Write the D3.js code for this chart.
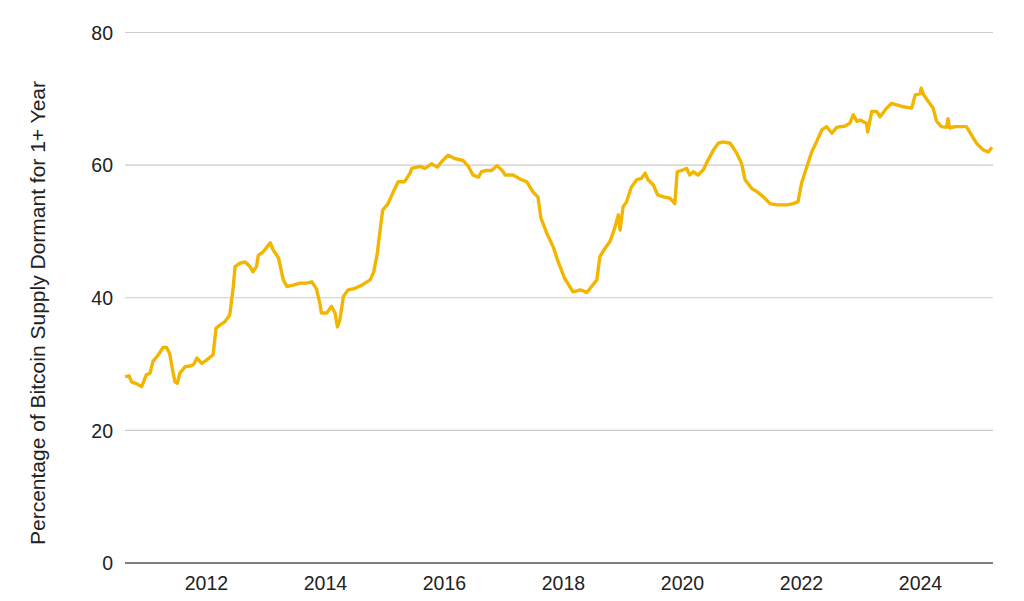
<!DOCTYPE html>
<html>
<head>
<meta charset="utf-8">
<script src="https://cdn.jsdelivr.net/npm/d3@7"></script>
<style>
  body { margin: 0; background: #fff; }
  svg text { font-family: "Liberation Sans", Arial, sans-serif; fill: #222; }
</style>
</head>
<body>
<svg id="chart"></svg>
<script>
'use strict';

// decimal years
var years = [
  2010.64, 2010.71, 2010.75, 2010.84, 2010.92, 2011.00, 2011.06, 2011.11, 2011.20, 2011.28,
  2011.34, 2011.39, 2011.44, 2011.48, 2011.52, 2011.56, 2011.65, 2011.73, 2011.79, 2011.85,
  2011.93, 2012.01, 2012.12, 2012.17, 2012.24, 2012.32, 2012.40, 2012.46, 2012.49, 2012.57,
  2012.66, 2012.74, 2012.79, 2012.85, 2012.88, 2012.96, 2013.08, 2013.13, 2013.22, 2013.30,
  2013.36, 2013.47, 2013.58, 2013.69, 2013.78, 2013.86, 2013.92, 2013.94, 2014.03, 2014.11,
  2014.17, 2014.21, 2014.25, 2014.31, 2014.39, 2014.50, 2014.62, 2014.76, 2014.82, 2014.88,
  2014.92, 2014.97, 2015.06, 2015.15, 2015.23, 2015.34, 2015.43, 2015.46, 2015.60, 2015.68,
  2015.79, 2015.89, 2015.96, 2016.07, 2016.18, 2016.32, 2016.41, 2016.49, 2016.58, 2016.63,
  2016.72, 2016.80, 2016.89, 2016.97, 2017.03, 2017.16, 2017.28, 2017.39, 2017.50, 2017.58,
  2017.63, 2017.73, 2017.84, 2017.92, 2018.03, 2018.17, 2018.29, 2018.40, 2018.48, 2018.57,
  2018.62, 2018.71, 2018.79, 2018.87, 2018.93, 2018.96, 2019.01, 2019.07, 2019.15, 2019.24,
  2019.32, 2019.38, 2019.43, 2019.52, 2019.59, 2019.69, 2019.80, 2019.88, 2019.92, 2020.02,
  2020.08, 2020.13, 2020.19, 2020.27, 2020.36, 2020.44, 2020.53, 2020.61, 2020.69, 2020.81,
  2020.92, 2021.00, 2021.06, 2021.17, 2021.26, 2021.37, 2021.48, 2021.59, 2021.76, 2021.87,
  2021.95, 2022.01, 2022.10, 2022.18, 2022.26, 2022.35, 2022.43, 2022.52, 2022.60, 2022.74,
  2022.82, 2022.88, 2022.94, 2022.99, 2023.10, 2023.12, 2023.19, 2023.27, 2023.33, 2023.44,
  2023.52, 2023.61, 2023.72, 2023.86, 2023.92, 2024.00, 2024.02, 2024.06, 2024.14, 2024.22,
  2024.28, 2024.36, 2024.45, 2024.47, 2024.50, 2024.59, 2024.67, 2024.78, 2024.87, 2024.95,
  2025.06, 2025.15, 2025.21
];

// percentage of supply dormant for 1+ year
var dormant = [
  28.1, 28.2, 27.3, 27.0, 26.6, 28.4, 28.6, 30.4, 31.4, 32.5,
  32.5, 31.6, 29.1, 27.3, 27.1, 28.6, 29.6, 29.7, 29.9, 30.9,
  30.1, 30.6, 31.4, 35.4, 35.9, 36.4, 37.4, 41.7, 44.7, 45.2,
  45.4, 44.7, 43.9, 44.7, 46.4, 46.9, 48.3, 47.2, 46.0, 42.7,
  41.7, 41.9, 42.2, 42.2, 42.4, 41.3, 38.9, 37.7, 37.7, 38.7,
  37.7, 35.6, 36.6, 40.2, 41.2, 41.4, 41.9, 42.7, 43.9, 46.7,
  49.7, 53.2, 54.2, 56.0, 57.5, 57.5, 58.8, 59.5, 59.8, 59.5,
  60.2, 59.7, 60.5, 61.5, 61.0, 60.7, 59.8, 58.5, 58.2, 59.0,
  59.2, 59.2, 59.9, 59.3, 58.5, 58.5, 57.9, 57.5, 55.9, 55.2,
  52.0, 49.7, 47.6, 45.4, 42.9, 40.9, 41.2, 40.8, 41.7, 42.7,
  46.2, 47.5, 48.5, 50.5, 52.5, 50.2, 53.7, 54.5, 56.7, 57.8,
  58.0, 58.8, 57.8, 57.0, 55.5, 55.2, 55.0, 54.2, 59.0, 59.3,
  59.5, 58.5, 59.0, 58.5, 59.3, 60.8, 62.3, 63.3, 63.5, 63.3,
  61.8, 60.3, 57.8, 56.5, 56.0, 55.2, 54.2, 54.0, 54.0, 54.2,
  54.5, 57.3, 59.8, 62.0, 63.5, 65.3, 65.8, 64.8, 65.7, 65.9,
  66.3, 67.6, 66.6, 66.8, 66.3, 65.0, 68.1, 68.1, 67.3, 68.6,
  69.3, 69.1, 68.8, 68.6, 70.6, 70.8, 71.6, 70.6, 69.6, 68.6,
  66.6, 65.8, 65.7, 67.0, 65.6, 65.8, 65.8, 65.8, 64.5, 63.3,
  62.3, 62.0, 62.7
];

var yTicks = [0, 20, 40, 60, 80];
var xTicks = [2012, 2014, 2016, 2018, 2020, 2022, 2024];
var yTitle = "Percentage of Bitcoin Supply Dormant for 1+ Year";

var width = 1024,
    height = 601,
    plotLeft = 125,
    plotRight = 993,
    plotTop = 32.5,
    plotBottom = 563;

var data = years.map(function(yr, i) { return { year: yr, value: dormant[i] }; });

var x = d3.scaleLinear()
          .domain([years[0], years[years.length - 1]])
          .range([plotLeft, 992]);

var y = d3.scaleLinear()
          .domain([0, 80])
          .range([plotBottom, plotTop]);

var svg = d3.select("#chart")
            .attr("width", width)
            .attr("height", height);

// gridlines
svg.append("g")
    .selectAll("line")
    .data(yTicks.filter(function(d) { return d > 0; }))
  .enter().append("line")
    .attr("x1", plotLeft)
    .attr("x2", plotRight)
    .attr("y1", function(d) { return y(d); })
    .attr("y2", function(d) { return y(d); })
    .attr("stroke", "#cccccc")
    .attr("stroke-width", 1.2);

// y axis labels
var yAxis = svg.append("g")
    .attr("transform", "translate(" + (plotLeft - 12) + ",0)")
    .call(d3.axisLeft(y).tickValues(yTicks).tickSize(0).tickPadding(0));
yAxis.select(".domain").remove();
yAxis.selectAll("text")
    .style("font-size", "19.5px")
    .attr("dy", "0.35em");

// x axis labels
var xAxis = svg.append("g")
    .attr("transform", "translate(0," + plotBottom + ")")
    .call(d3.axisBottom(x).tickValues(xTicks).tickFormat(d3.format("d")).tickSize(0).tickPadding(13));
xAxis.select(".domain").remove();
xAxis.selectAll("text")
    .style("font-size", "19.5px");

// baseline
svg.append("line")
    .attr("x1", plotLeft)
    .attr("x2", plotRight)
    .attr("y1", y(0))
    .attr("y2", y(0))
    .attr("stroke", "#555555")
    .attr("stroke-width", 1.6);

// data line
var line = d3.line()
             .x(function(d) { return x(d.year); })
             .y(function(d) { return y(d.value); });

svg.append("path")
    .datum(data)
    .attr("d", line)
    .attr("fill", "none")
    .attr("stroke", "#f2b600")
    .attr("stroke-width", 3.4)
    .attr("stroke-linejoin", "round");

// y title
svg.append("text")
    .attr("transform", "translate(45,313) rotate(-90)")
    .attr("text-anchor", "middle")
    .style("font-size", "21px")
    .text(yTitle);
</script>
</body>
</html>
